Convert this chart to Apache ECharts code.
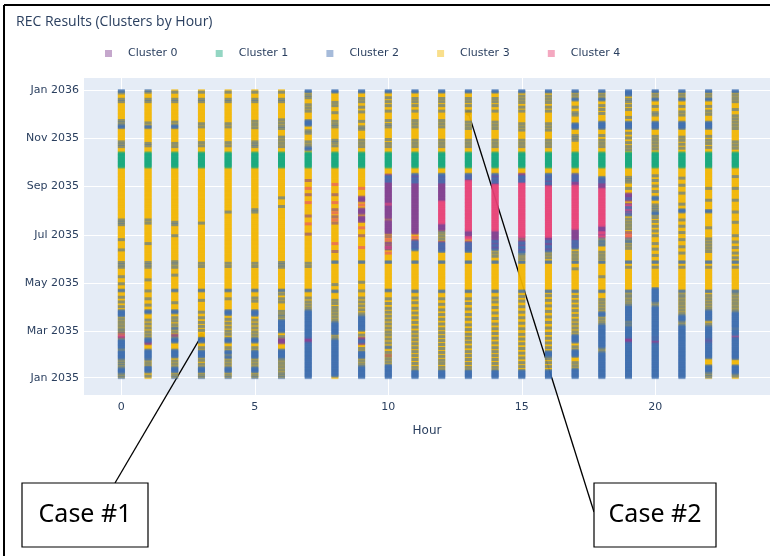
<!DOCTYPE html>
<html>
<head>
<meta charset="utf-8">
<script src="https://cdn.jsdelivr.net/npm/echarts@6/dist/echarts.min.js"></script>
<style>
  html, body { margin: 0; padding: 0; background: #ffffff; }
  #chart { width: 770px; height: 556px; }
</style>
</head>
<body>
<div id="chart"></div>
<script>
// Hours of the day (x axis)
const hours = [0, 1, 2, 3, 4, 5, 6, 7, 8, 9, 10, 11, 12, 13, 14, 15, 16, 17, 18, 19, 20, 21, 22, 23];

// Cluster names and colours
const clusterNames = ['Cluster 0', 'Cluster 1', 'Cluster 2', 'Cluster 3', 'Cluster 4'];
const clusterColors = ['#7f3c8d', '#11a579', '#3969ac', '#f2b701', '#e73f74'];

// Y axis ticks (dates) and their labels
const tickDates = ['2035-01-01', '2035-03-01', '2035-05-01', '2035-07-01', '2035-09-01', '2035-11-01', '2036-01-01'];
const tickLabels = ['Jan 2035', 'Mar 2035', 'May 2035', 'Jul 2035', 'Sep 2035', 'Nov 2035', 'Jan 2036'];
const hourTicks = [0, 5, 10, 15, 20];

// Cluster of every day of 2035 for each hour, as "startDay:cluster" change points
// (day 0 = 1 Jan 2035; each cluster holds until the next change point).
const clusterRunsByHour = [
  /* 0 */ "0:2 1:3 3:2 4:3 6:2 13:3 15:2 16:3 18:2 19:3 21:2 22:3 24:2 35:3 37:2 49:3 51:0 53:4 54:3 56:0 57:3 59:2 60:3 62:2 63:3 66:2 67:3 70:2 71:3 74:2 75:3 78:2 86:3 90:2 91:3 96:2 97:3 102:2 103:3 110:2 112:3 119:2 120:3 128:2 129:3 140:2 141:3 143:2 144:3 146:2 147:3 162:2 163:3 175:2 176:3 194:2 195:3 197:2 198:3 200:2 201:3 267:1 286:3 293:2 294:3 296:2 297:3 299:2 300:3 317:2 321:3 323:2 324:3 326:2 327:3 350:2 351:3 353:2 354:3 361:2 362:3 363:2",
  /* 1 */ "0:3 2:2 3:3 7:2 15:3 18:2 19:3 22:2 23:3 24:2 36:3 43:0 46:2 51:3 54:2 55:3 58:2 59:3 63:2 64:3 68:2 69:3 73:2 74:3 82:2 86:3 92:2 93:3 100:2 101:3 110:2 111:3 124:2 125:3 140:2 141:3 143:2 144:3 146:2 147:3 170:2 171:3 196:2 197:3 200:2 201:3 267:1 286:3 294:2 295:3 297:2 298:3 317:2 320:3 323:2 324:3 350:2 351:3 353:2 354:3 362:2 363:3 364:2",
  /* 2 */ "0:2 1:3 3:2 4:3 7:2 14:3 17:2 18:3 21:2 22:3 26:2 36:3 45:2 51:3 53:0 55:3 58:2 59:3 62:2 64:3 67:2 68:3 72:2 73:3 76:2 77:3 82:2 86:3 95:2 96:3 110:2 112:3 130:2 131:3 140:2 141:3 144:2 145:3 147:2 148:3 180:2 181:3 194:2 195:3 197:2 198:3 267:1 286:3 293:2 294:3 297:2 298:3 317:2 321:3 324:2 325:3 350:2 351:3 353:2 354:3 362:2 363:3",
  /* 3 */ "0:2 1:3 3:2 4:3 7:2 14:3 17:2 18:3 22:2 23:3 26:2 35:3 38:2 39:3 45:2 51:3 60:2 61:3 65:2 66:3 70:2 71:3 76:2 77:3 83:2 84:3 98:2 99:3 110:2 112:3 141:2 142:3 145:2 146:3 196:2 197:3 267:1 286:3 294:2 295:3 298:2 299:3 318:2 319:3 322:2 323:3 350:2 351:3 353:2 354:3 362:2 363:3",
  /* 4 */ "0:2 1:3 3:2 4:3 7:2 14:3 17:2 18:3 21:2 22:3 25:2 28:3 30:2 35:3 38:2 39:3 45:2 51:3 55:2 56:3 59:2 60:3 64:2 65:3 69:2 70:3 74:2 75:3 80:2 86:3 100:2 101:3 110:2 112:3 141:2 142:3 145:2 146:3 210:2 211:3 267:1 286:3 294:2 295:3 298:2 299:3 318:2 319:3 322:2 323:3 350:2 351:3 353:2 354:3 362:2 363:3",
  /* 5 */ "0:2 1:3 3:2 4:3 7:2 14:3 17:2 18:3 21:2 22:3 25:2 35:3 38:2 39:3 45:2 51:3 54:2 55:3 58:2 59:3 63:2 64:3 68:2 69:3 73:2 74:3 79:2 86:3 97:2 98:3 101:2 102:3 110:2 112:3 141:2 142:3 145:2 146:3 210:2 211:3 213:2 214:3 267:1 286:3 293:2 294:3 296:2 297:3 299:2 300:3 317:2 318:3 321:2 322:3 325:2 326:3 350:2 351:3 353:2 354:3 362:2 363:3",
  /* 6 */ "0:2 1:3 3:2 4:3 6:2 7:3 10:2 11:3 14:2 15:3 18:2 19:3 22:2 23:3 25:2 36:3 44:0 50:3 52:2 53:3 58:2 74:3 77:2 78:3 80:2 81:3 84:2 85:3 96:2 97:3 100:2 101:3 106:2 107:3 110:2 112:3 140:2 141:3 143:2 144:3 146:2 147:3 217:2 218:3 228:2 229:3 267:1 286:3 293:2 294:3 297:2 298:3 301:2 302:3 305:2 306:3 316:2 317:3 319:2 320:3 323:2 324:3 327:2 328:3 350:2 351:3 353:2 354:3 362:2 363:3",
  /* 7 */ "0:2 45:0 51:2 86:3 88:2 89:3 92:2 93:3 96:2 97:3 101:2 102:3 110:2 112:3 141:2 142:3 145:2 146:3 182:0 183:3 195:4 196:3 205:0 206:3 222:4 223:3 232:0 233:3 240:4 241:3 250:0 251:3 267:1 286:3 289:2 293:3 295:2 296:3 299:2 300:3 310:2 311:3 313:2 314:3 320:2 327:3 338:2 339:3 342:2 343:3 346:2 347:3 355:2 356:3 358:2 359:3 362:2",
  /* 8 */ "0:3 2:2 49:3 51:2 52:3 55:2 71:3 73:2 74:3 77:2 78:3 81:2 82:3 85:2 86:3 89:2 90:3 94:2 95:3 98:2 99:3 109:2 111:3 118:2 119:3 146:2 148:3 160:0 161:3 170:4 171:3 196:0 197:3 200:4 201:3 204:0 205:3 209:4 210:3 213:0 214:3 222:4 223:3 232:0 233:3 245:4 246:3 267:1 286:3 294:2 295:3 298:2 299:3 301:2 302:3 318:2 319:3 321:2 322:3 325:2 326:3 336:2 337:3 345:2 346:3 349:2 350:3 362:2",
  /* 9 */ "0:2 15:3 17:2 18:3 21:2 22:3 25:2 34:3 37:2 38:3 43:0 45:2 48:0 51:3 54:2 55:3 60:2 79:3 81:2 82:3 86:2 87:3 91:2 92:3 96:2 97:3 101:2 102:3 110:2 111:3 121:2 122:3 146:2 148:3 165:4 166:3 180:0 181:3 190:4 191:3 198:0 205:3 208:0 215:3 219:4 220:3 224:0 230:3 240:4 241:3 267:1 286:3 293:2 294:3 297:2 298:3 301:2 302:3 315:2 316:3 318:2 319:3 325:2 326:3 337:2 338:3 343:2 344:3 350:2 351:3 354:2 355:3 362:2",
  /* 10 */ "0:2 17:3 20:2 21:3 24:2 25:3 28:0 29:3 32:2 33:3 38:2 40:3 44:2 45:3 49:2 50:3 54:2 55:3 58:2 59:3 63:2 64:3 68:2 69:3 73:2 74:3 78:2 79:3 83:2 84:3 88:2 89:3 94:2 95:3 100:2 101:3 110:2 112:3 146:2 148:3 158:4 159:3 163:0 165:4 166:0 168:3 170:0 172:3 175:4 176:3 179:0 180:3 183:0 200:3 202:0 220:4 221:0 249:2 251:0 253:2 256:0 258:3 267:1 286:3 293:2 294:3 297:2 298:3 302:2 303:3 318:2 319:3 321:2 322:3 326:2 327:3 338:2 339:3 345:2 346:3 350:2 351:3 355:2 356:3 362:2",
  /* 11 */ "0:2 10:3 13:2 14:3 18:2 19:3 23:2 24:3 28:2 29:3 33:2 34:3 38:2 39:3 43:2 44:3 48:2 49:3 53:2 54:3 58:2 59:3 64:2 65:3 70:2 71:3 76:2 77:3 82:2 83:3 88:2 89:3 95:2 96:3 101:2 102:3 109:2 111:3 146:2 148:3 162:2 165:0 167:2 169:0 171:2 173:0 175:3 178:4 179:3 183:0 248:2 250:0 252:2 254:0 257:2 259:3 267:1 286:3 293:2 294:3 297:2 298:3 301:2 302:3 318:2 319:3 322:2 323:3 326:2 327:3 338:2 339:3 345:2 346:3 350:2 351:3 354:2 355:3 362:2",
  /* 12 */ "0:2 10:3 13:2 14:3 18:2 19:3 22:2 23:3 27:2 28:3 32:2 33:3 37:2 38:3 42:2 43:3 47:2 48:3 52:2 53:3 57:2 58:3 62:2 63:3 68:2 69:3 74:2 75:3 80:2 81:3 86:2 87:3 93:2 94:3 100:2 101:3 109:2 111:3 146:2 148:3 160:2 163:0 165:2 167:0 169:2 171:0 173:3 176:2 177:3 180:2 181:3 184:2 185:3 187:0 196:4 224:0 248:2 250:0 252:2 254:0 256:2 259:3 267:1 286:3 293:2 294:3 297:2 298:3 301:2 302:3 318:2 319:3 322:2 323:3 326:2 327:3 338:2 339:3 345:2 346:3 350:2 351:3 354:2 355:3 362:2",
  /* 13 */ "0:2 10:3 13:2 14:3 18:2 19:3 23:2 24:3 28:2 29:3 33:2 34:3 39:2 40:3 45:2 46:3 50:2 51:3 55:2 56:3 61:2 62:3 67:2 68:3 74:2 75:3 80:2 81:3 87:2 88:3 94:2 95:3 100:2 101:3 109:2 111:3 146:2 148:3 160:2 163:0 165:2 167:0 169:2 171:0 173:3 176:4 179:0 187:4 250:0 253:2 255:0 257:2 259:3 267:1 286:3 293:2 294:3 297:2 298:3 301:2 302:3 316:2 317:3 320:2 321:3 324:2 325:3 338:2 339:3 345:2 346:3 350:2 351:3 354:2 355:3 362:2",
  /* 14 */ "0:2 10:3 13:2 14:3 18:2 19:3 23:2 24:3 28:2 29:3 33:2 34:3 38:2 39:3 44:2 45:3 50:2 51:3 56:2 57:3 62:2 63:3 68:2 69:3 75:2 76:3 82:2 83:3 89:2 90:3 96:2 97:3 101:2 102:3 109:2 111:3 146:2 148:3 154:2 155:3 158:2 159:3 162:2 164:0 167:2 169:0 172:2 174:0 187:4 245:0 248:2 250:0 252:2 254:0 257:2 259:3 267:1 286:3 293:2 294:3 297:2 298:3 301:2 302:3 316:2 317:3 320:2 321:3 324:2 325:3 338:2 339:3 345:2 346:3 350:2 351:3 354:2 355:3 362:2",
  /* 15 */ "0:2 10:3 14:2 15:3 19:2 20:3 25:2 26:3 31:2 32:3 37:2 38:3 43:2 44:3 49:2 50:3 55:2 56:3 62:2 63:3 69:2 70:3 76:2 77:3 83:2 84:3 90:2 91:3 97:2 98:3 103:2 104:3 109:2 111:3 146:2 148:3 151:2 152:3 155:2 156:3 158:2 161:0 164:2 167:0 170:2 172:0 175:3 177:0 179:4 247:0 249:2 251:0 253:2 256:0 259:3 267:1 286:3 293:2 294:3 297:2 298:3 301:2 302:3 314:2 315:3 318:2 319:3 322:2 323:3 338:2 339:3 343:2 344:3 349:2 350:3 353:2 354:3 357:2 358:3 362:2",
  /* 16 */ "0:2 10:3 14:2 15:3 19:2 20:3 24:2 25:3 27:2 34:3 38:2 39:3 44:2 45:3 50:2 51:3 56:2 57:3 63:2 64:3 70:2 71:3 77:2 78:3 84:2 85:3 91:2 92:3 98:2 99:3 104:2 105:3 109:2 111:3 146:2 148:3 152:2 153:3 156:2 157:3 160:2 162:0 165:2 168:0 172:2 174:0 179:4 243:0 246:2 248:0 251:2 254:0 256:2 259:3 267:1 286:3 293:2 294:3 297:2 298:3 301:2 302:3 314:2 315:3 318:2 319:3 322:2 323:3 338:2 339:3 343:2 344:3 349:2 350:3 353:2 354:3 357:2 358:3 362:2",
  /* 17 */ "0:2 12:3 15:2 16:3 19:2 20:3 27:2 36:3 39:2 40:3 45:2 55:3 58:2 59:3 63:2 64:3 68:2 69:3 73:2 74:3 79:2 80:3 85:2 86:3 91:2 92:3 97:2 98:3 103:2 104:3 109:2 111:3 138:2 139:3 146:2 148:3 151:2 152:3 155:2 156:3 159:2 160:3 164:2 166:0 168:2 170:0 172:2 174:0 189:4 244:0 250:2 252:0 254:2 256:0 258:2 259:3 267:1 286:3 301:2 302:3 304:2 305:3 307:2 308:3 316:2 323:3 333:2 334:3 336:2 337:3 343:2 344:3 352:2 355:3 358:2 359:3 362:2",
  /* 18 */ "0:2 33:3 35:2 36:3 38:2 68:3 70:2 71:3 74:2 75:3 78:2 84:3 87:2 88:3 91:2 92:3 95:2 96:3 99:2 100:3 109:2 111:3 128:2 129:3 146:2 148:3 151:2 152:3 155:2 156:3 159:2 160:3 168:2 170:3 172:2 174:3 176:2 177:3 178:4 180:0 183:4 185:0 193:4 240:0 248:2 250:0 252:2 255:3 267:1 286:3 293:2 294:3 297:2 298:3 301:2 302:3 307:2 308:3 316:2 325:3 335:2 336:3 340:2 341:3 345:2 346:3 352:2 355:3 358:2 359:3 362:2",
  /* 19 */ "0:2 45:0 51:2 66:3 68:2 70:3 72:2 92:3 94:2 95:3 98:2 99:3 102:2 103:3 105:2 106:3 109:2 111:3 140:2 141:3 146:2 148:3 164:2 165:3 168:2 169:3 172:2 174:3 176:2 177:3 178:4 179:3 181:4 182:3 184:0 185:3 189:2 190:3 193:2 194:3 197:2 198:3 201:2 202:3 206:2 208:4 210:2 211:0 213:4 215:2 217:4 219:0 221:3 225:0 227:2 228:0 234:3 240:2 241:3 248:2 249:3 251:2 252:3 254:2 255:3 267:1 286:3 289:2 290:3 293:2 294:3 298:2 299:3 304:2 305:3 310:2 311:3 316:2 325:3 330:2 331:3 340:2 341:3 345:2 346:3 350:2 351:3 353:2 354:3 358:2",
  /* 20 */ "0:2 44:0 48:2 51:0 52:2 91:3 93:2 94:3 96:2 114:3 140:2 141:3 146:2 148:3 155:2 156:3 163:2 164:3 170:2 171:3 180:2 181:3 186:2 187:3 192:2 193:3 198:2 199:3 203:2 204:3 207:2 211:3 213:2 214:3 216:2 217:3 219:2 220:3 226:2 230:3 236:2 237:3 243:2 244:3 250:2 251:3 256:2 257:3 267:1 286:3 290:2 291:3 294:2 295:3 298:2 299:3 302:2 303:3 306:2 307:3 316:2 325:3 333:2 334:3 336:2 337:3 344:2 345:3 352:2 355:3 358:2 359:3 362:2",
  /* 21 */ "0:2 67:3 69:2 70:3 72:2 80:3 82:2 83:3 86:2 87:3 90:2 91:3 94:2 95:3 98:2 99:3 102:2 103:3 105:2 106:3 109:2 111:3 140:2 141:3 146:2 148:3 158:2 159:3 166:2 167:3 175:2 176:3 184:2 185:3 192:2 193:3 200:2 201:3 210:2 214:3 220:2 221:3 234:2 235:3 244:2 245:3 253:2 254:3 267:1 286:3 291:2 292:3 296:2 297:3 301:2 302:3 305:2 306:3 316:2 325:3 333:2 334:3 337:2 338:3 344:2 345:3 352:2 355:3 358:2 359:3 362:2",
  /* 22 */ "0:3 1:2 2:3 4:2 5:3 7:2 16:3 25:2 45:0 47:2 48:0 50:2 66:3 68:2 69:3 73:2 86:3 88:2 89:3 92:2 93:3 96:2 97:3 100:2 101:3 104:2 105:3 109:2 111:3 140:2 141:3 146:2 148:3 160:2 161:3 164:2 165:3 168:2 169:3 172:2 173:3 176:2 177:3 190:2 191:3 210:2 213:3 225:2 226:3 240:2 241:3 267:1 286:3 292:2 293:3 297:2 298:3 301:2 302:3 306:2 307:3 316:2 325:3 334:2 335:3 338:2 339:3 344:2 345:3 352:2 355:3 358:2 359:3 362:2",
  /* 23 */ "0:3 2:2 3:3 5:2 16:3 24:2 51:0 53:4 54:2 62:3 63:2 84:3 86:2 87:3 90:2 91:3 94:2 95:3 98:2 99:3 102:2 103:3 106:2 107:3 109:2 111:3 140:2 141:3 146:2 148:3 152:2 153:3 158:2 159:3 165:2 166:3 172:2 173:3 180:2 181:3 197:2 198:3 210:2 211:3 225:2 226:3 240:2 241:3 255:2 256:3 267:1 286:3 291:2 292:3 295:2 296:3 299:2 300:3 316:2 317:3 320:2 321:3 324:2 325:3 328:2 329:3 332:2 333:3 340:2 341:3 350:2 351:3 354:2 355:3 358:2 359:3 362:2"
];

// Annotated cases
const caseLabels = ['Case #1', 'Case #2'];
const caseHours = [3, 13];
const caseDates = ['2035-02-23', '2035-12-03'];

const DAY_MS = 86400000;
const YEAR_START = Date.UTC(2035, 0, 1);
const DAYS_IN_YEAR = 365;
const toTime = s => { const [y, m, d] = s.split('-').map(Number); return Date.UTC(y, m - 1, d); };

// Expand change points into one cluster per day
function expandRuns(str) {
  const toks = str.trim().split(/\s+/).map(t => t.split(':').map(Number));
  toks.sort((a, b) => a[0] - b[0]);
  const days = new Array(DAYS_IN_YEAR);
  for (let i = 0; i < toks.length; i++) {
    const start = toks[i][0], c = toks[i][1];
    const end = i + 1 < toks.length ? toks[i + 1][0] : DAYS_IN_YEAR;
    for (let d = start; d < end && d < DAYS_IN_YEAR; d++) days[d] = c;
  }
  return days;
}

const pointsByCluster = clusterNames.map(() => []);
clusterRunsByHour.forEach((runs, i) => {
  expandRuns(runs).forEach((c, d) => {
    pointsByCluster[c].push([hours[i], YEAR_START + d * DAY_MS]);
  });
});

const tickTimes = tickDates.map(toTime);
const tickLabelOf = {};
tickTimes.forEach((t, i) => { tickLabelOf[t] = tickLabels[i]; });

const TITLE_FONT = '"Open Sans", "DejaVu Sans", sans-serif';
const FONT = '"DejaVu Sans", Verdana, sans-serif';
const TEXT = '#2a3f5f';

// Yellow is drawn first so the other clusters stay visible over it
const drawOrder = [3, 1, 0, 4, 2];

const chart = echarts.init(document.getElementById('chart'), null, { renderer: 'canvas' });

chart.setOption({
  animation: false,
  backgroundColor: '#ffffff',
  textStyle: { fontFamily: FONT },
  title: {
    text: 'REC Results (Clusters by Hour)',
    left: 11, top: 10,
    textStyle: { fontFamily: TITLE_FONT, fontSize: 14, fontWeight: 'normal', color: TEXT }
  },
  legend: clusterNames.map((name, i) => ({
    data: [{ name: name, itemStyle: { opacity: 0.45 } }],
    left: 100 + i * 110.7,
    top: 43,
    icon: 'rect',
    itemWidth: 7,
    itemHeight: 7,
    selectedMode: false,
    textStyle: { fontFamily: FONT, fontSize: 11, color: TEXT, padding: [0, 0, 0, 11] }
  })),
  grid: {
    left: 84, right: 0, top: 78, bottom: 161,
    show: true, backgroundColor: '#e5ecf6', borderWidth: 0
  },
  xAxis: {
    type: 'value',
    min: -1.4, max: 24.3,
    name: 'Hour', nameLocation: 'middle', nameGap: 30,
    nameTextStyle: { fontFamily: FONT, fontSize: 12, color: TEXT },
    axisLine: { show: false },
    axisTick: { show: false, customValues: hourTicks },
    axisLabel: { customValues: hourTicks, fontFamily: FONT, fontSize: 11, color: TEXT, margin: 7 },
    splitLine: { show: true, lineStyle: { color: '#ffffff', width: 1 } }
  },
  yAxis: {
    type: 'value',
    min: YEAR_START - 22 * DAY_MS,
    max: Date.UTC(2036, 0, 1) + 15 * DAY_MS,
    axisLine: { show: false },
    axisTick: { show: false, customValues: tickTimes },
    axisLabel: {
      customValues: tickTimes,
      formatter: v => tickLabelOf[v] || '',
      fontFamily: FONT, fontSize: 11, color: TEXT, margin: 5
    },
    splitLine: { show: true, lineStyle: { color: '#ffffff', width: 1 } }
  },
  series: drawOrder.map(c => ({
    name: clusterNames[c],
    type: 'scatter',
    data: pointsByCluster[c],
    symbol: 'rect',
    symbolSize: [7, 3],
    itemStyle: { color: clusterColors[c], opacity: 0.55 },
    emphasis: { disabled: true },
    silent: true
  }))
});

// Callout boxes pointing at two days of the chart
const dot1 = chart.convertToPixel({ gridIndex: 0 }, [caseHours[0], toTime(caseDates[0])]);
const dot2 = chart.convertToPixel({ gridIndex: 0 }, [caseHours[1], toTime(caseDates[1])]);
const box1 = { x: 22, y: 483, w: 126, h: 64 };
const box2 = { x: 594, y: 483, w: 122, h: 64 };
const CALLOUT_FONT = '"Noto Sans", "Liberation Sans", sans-serif';

chart.setOption({
  graphic: [
    // frame
    { type: 'line', shape: { x1: 4, y1: 5, x2: 770, y2: 5 }, style: { stroke: '#000', lineWidth: 2 }, z: 100 },
    { type: 'line', shape: { x1: 4, y1: 5, x2: 4, y2: 556 }, style: { stroke: '#000', lineWidth: 2 }, z: 100 },
    // case 1
    { type: 'line', shape: { x1: 115, y1: box1.y, x2: dot1[0], y2: dot1[1] }, style: { stroke: '#000', lineWidth: 1.3 }, z: 100 },
    { type: 'circle', shape: { cx: dot1[0], cy: dot1[1], r: 2.8 }, style: { fill: '#000' }, z: 101 },
    { type: 'rect', shape: { x: box1.x, y: box1.y, width: box1.w, height: box1.h }, style: { fill: '#fff', stroke: '#000', lineWidth: 1.2 }, z: 100 },
    { type: 'text', x: box1.x + box1.w / 2, y: box1.y + box1.h / 2, style: { text: caseLabels[0], fontFamily: CALLOUT_FONT, fontSize: 25, fill: '#000', align: 'center', verticalAlign: 'middle' }, z: 101 },
    // case 2
    { type: 'line', shape: { x1: box2.x, y1: 512, x2: dot2[0], y2: dot2[1] }, style: { stroke: '#000', lineWidth: 1.3 }, z: 100 },
    { type: 'circle', shape: { cx: dot2[0], cy: dot2[1], r: 2.8 }, style: { fill: '#000' }, z: 101 },
    { type: 'rect', shape: { x: box2.x, y: box2.y, width: box2.w, height: box2.h }, style: { fill: '#fff', stroke: '#000', lineWidth: 1.2 }, z: 100 },
    { type: 'text', x: box2.x + box2.w / 2, y: box2.y + box2.h / 2, style: { text: caseLabels[1], fontFamily: CALLOUT_FONT, fontSize: 25, fill: '#000', align: 'center', verticalAlign: 'middle' }, z: 101 }
  ]
});
</script>
</body>
</html>
